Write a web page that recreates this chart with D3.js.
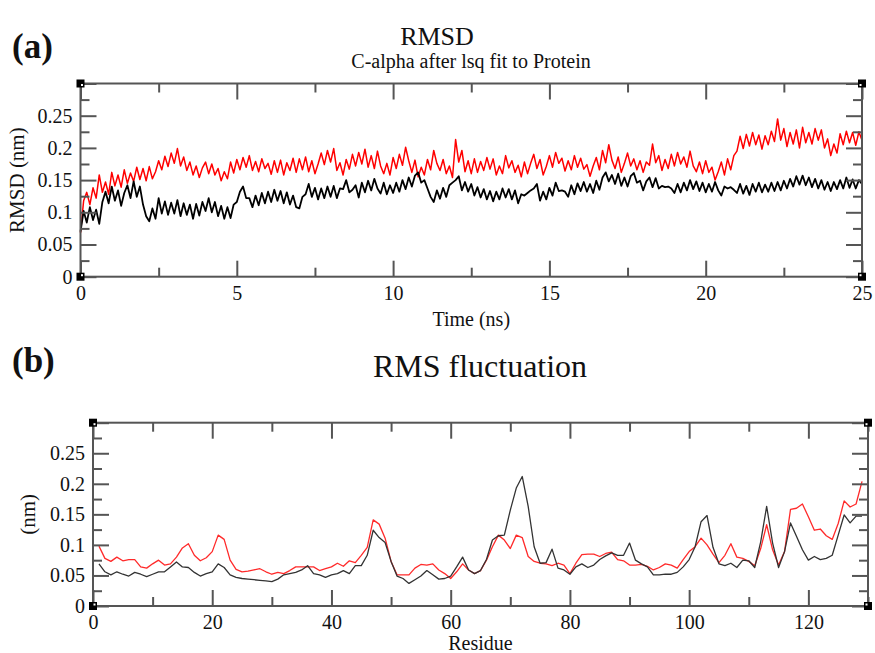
<!DOCTYPE html>
<html>
<head>
<meta charset="utf-8">
<script src="https://cdn.jsdelivr.net/npm/d3@7"></script>
<style>
    body { margin: 0; background: #fff; }
    svg { display: block; font-family: "Liberation Serif", "Times New Roman", serif; }
</style>
</head>
<body>
<div id="chart"></div>
<script>
// RMSD, sampled every 0.1 ns from 0 to 25 ns
const rmsdStep = 0.1;
const rmsdBlack = [
    0.070, 0.102, 0.084, 0.108, 0.088, 0.104, 0.082, 0.116, 0.132, 0.114,
    0.140, 0.118, 0.134, 0.110, 0.130, 0.142, 0.122, 0.148, 0.124, 0.140,
    0.112, 0.094, 0.086, 0.106, 0.090, 0.122, 0.098, 0.117, 0.096, 0.115,
    0.098, 0.119, 0.094, 0.114, 0.096, 0.112, 0.090, 0.113, 0.095, 0.116,
    0.102, 0.122, 0.100, 0.116, 0.094, 0.110, 0.090, 0.108, 0.091, 0.112,
    0.116, 0.132, 0.140, 0.122, 0.122, 0.108, 0.126, 0.111, 0.130, 0.114,
    0.132, 0.116, 0.135, 0.118, 0.133, 0.114, 0.131, 0.112, 0.126, 0.108,
    0.106, 0.124, 0.128, 0.144, 0.124, 0.138, 0.120, 0.137, 0.122, 0.140,
    0.124, 0.141, 0.122, 0.137, 0.136, 0.150, 0.131, 0.135, 0.142, 0.123,
    0.146, 0.131, 0.149, 0.134, 0.152, 0.137, 0.129, 0.146, 0.128, 0.142,
    0.130, 0.146, 0.132, 0.150, 0.136, 0.154, 0.140, 0.157, 0.162, 0.146,
    0.150, 0.137, 0.124, 0.116, 0.134, 0.121, 0.138, 0.124, 0.142, 0.146,
    0.150, 0.156, 0.134, 0.147, 0.132, 0.144, 0.126, 0.139, 0.123, 0.136,
    0.120, 0.133, 0.117, 0.132, 0.120, 0.137, 0.123, 0.136, 0.120, 0.134,
    0.114, 0.128, 0.126, 0.130, 0.134, 0.137, 0.144, 0.118, 0.132, 0.120,
    0.138, 0.126, 0.146, 0.133, 0.134, 0.132, 0.124, 0.142, 0.128, 0.145,
    0.133, 0.147, 0.132, 0.144, 0.130, 0.149, 0.135, 0.154, 0.162, 0.148,
    0.158, 0.144, 0.160, 0.141, 0.154, 0.140, 0.156, 0.161, 0.146, 0.149,
    0.134, 0.148, 0.154, 0.139, 0.153, 0.137, 0.141, 0.139, 0.140, 0.137,
    0.130, 0.144, 0.131, 0.146, 0.134, 0.150, 0.136, 0.148, 0.133, 0.146,
    0.131, 0.144, 0.132, 0.147, 0.134, 0.126, 0.140, 0.137, 0.139, 0.135,
    0.130, 0.144, 0.129, 0.141, 0.127, 0.144, 0.132, 0.146, 0.131, 0.143,
    0.132, 0.146, 0.133, 0.147, 0.134, 0.149, 0.137, 0.152, 0.140, 0.156,
    0.143, 0.157, 0.142, 0.154, 0.139, 0.152, 0.137, 0.150, 0.135, 0.147,
    0.133, 0.147, 0.136, 0.150, 0.137, 0.154, 0.138, 0.151, 0.137, 0.150,
    0.144
];
const rmsdRed = [
    0.068, 0.118, 0.131, 0.112, 0.138, 0.122, 0.158, 0.131, 0.147, 0.128,
    0.162, 0.141, 0.158, 0.139, 0.166, 0.145, 0.161, 0.148, 0.170, 0.151,
    0.168, 0.149, 0.171, 0.152, 0.163, 0.180, 0.166, 0.187, 0.171, 0.192,
    0.176, 0.199, 0.172, 0.186, 0.165, 0.178, 0.158, 0.172, 0.154, 0.169,
    0.178, 0.160, 0.175, 0.158, 0.168, 0.149, 0.163, 0.152, 0.178, 0.161,
    0.182, 0.166, 0.185, 0.170, 0.188, 0.165, 0.179, 0.163, 0.183, 0.168,
    0.176, 0.159, 0.180, 0.162, 0.181, 0.158, 0.177, 0.165, 0.184, 0.162,
    0.183, 0.166, 0.186, 0.163, 0.180, 0.160, 0.175, 0.192, 0.174, 0.196,
    0.178, 0.199, 0.165, 0.177, 0.158, 0.182, 0.167, 0.190, 0.172, 0.193,
    0.175, 0.198, 0.170, 0.188, 0.168, 0.195, 0.172, 0.160, 0.176, 0.158,
    0.185, 0.168, 0.190, 0.173, 0.201, 0.180, 0.162, 0.181, 0.155, 0.170,
    0.158, 0.182, 0.166, 0.196, 0.176, 0.165, 0.182, 0.160, 0.172, 0.154,
    0.213, 0.178, 0.196, 0.163, 0.180, 0.160, 0.183, 0.162, 0.179, 0.165,
    0.185, 0.167, 0.183, 0.158, 0.172, 0.160, 0.188, 0.169, 0.180, 0.162,
    0.173, 0.155, 0.178, 0.160, 0.176, 0.190, 0.168, 0.182, 0.158, 0.171,
    0.188, 0.170, 0.193, 0.176, 0.184, 0.164, 0.180, 0.166, 0.188, 0.170,
    0.184, 0.167, 0.174, 0.156, 0.172, 0.185, 0.166, 0.196, 0.177, 0.205,
    0.181, 0.168, 0.186, 0.162, 0.176, 0.192, 0.172, 0.183, 0.166, 0.180,
    0.162, 0.178, 0.173, 0.206, 0.177, 0.188, 0.165, 0.182, 0.168, 0.190,
    0.172, 0.193, 0.175, 0.186, 0.170, 0.195, 0.172, 0.163, 0.178, 0.160,
    0.180, 0.162, 0.170, 0.150, 0.163, 0.178, 0.158, 0.183, 0.166, 0.188,
    0.195, 0.218, 0.199, 0.221, 0.203, 0.224, 0.205, 0.220, 0.198, 0.219,
    0.205, 0.226, 0.210, 0.245, 0.212, 0.230, 0.202, 0.224, 0.206, 0.228,
    0.200, 0.232, 0.208, 0.224, 0.206, 0.230, 0.212, 0.228, 0.200, 0.214,
    0.188, 0.206, 0.192, 0.222, 0.205, 0.226, 0.208, 0.224, 0.204, 0.225,
    0.212
];

// RMS fluctuation per residue, residues 1..129
const rmsfBlack = [
    0.069, 0.056, 0.051, 0.056, 0.052, 0.049, 0.055, 0.052, 0.048, 0.052,
    0.056, 0.056, 0.064, 0.072, 0.064, 0.063, 0.055, 0.049, 0.053, 0.056,
    0.069, 0.063, 0.051, 0.047, 0.045, 0.044, 0.043, 0.042, 0.041, 0.040,
    0.044, 0.051, 0.053, 0.055, 0.059, 0.066, 0.053, 0.051, 0.047, 0.051,
    0.053, 0.058, 0.053, 0.066, 0.066, 0.083, 0.124, 0.112, 0.104, 0.073,
    0.049, 0.045, 0.037, 0.043, 0.049, 0.058, 0.051, 0.044, 0.045, 0.049,
    0.064, 0.080, 0.059, 0.053, 0.058, 0.076, 0.108, 0.115, 0.116, 0.157,
    0.193, 0.212, 0.163, 0.097, 0.070, 0.071, 0.093, 0.062, 0.059, 0.052,
    0.064, 0.069, 0.063, 0.067, 0.076, 0.082, 0.087, 0.083, 0.083, 0.103,
    0.075, 0.069, 0.064, 0.051, 0.051, 0.052, 0.052, 0.055, 0.064, 0.076,
    0.097, 0.138, 0.148, 0.096, 0.069, 0.066, 0.070, 0.063, 0.075, 0.074,
    0.063, 0.105, 0.163, 0.103, 0.063, 0.089, 0.136, 0.114, 0.092, 0.075,
    0.081, 0.076, 0.078, 0.083, 0.116, 0.149, 0.136, 0.147, 0.147
];
const rmsfRed = [
    0.098, 0.078, 0.073, 0.080, 0.074, 0.076, 0.076, 0.064, 0.062, 0.069,
    0.075, 0.067, 0.069, 0.080, 0.095, 0.102, 0.083, 0.074, 0.079, 0.089,
    0.116, 0.109, 0.075, 0.060, 0.056, 0.057, 0.059, 0.061, 0.056, 0.052,
    0.055, 0.053, 0.058, 0.064, 0.064, 0.064, 0.064, 0.058, 0.061, 0.064,
    0.070, 0.065, 0.074, 0.071, 0.083, 0.096, 0.141, 0.134, 0.111, 0.073,
    0.051, 0.051, 0.051, 0.062, 0.068, 0.067, 0.069, 0.059, 0.053, 0.045,
    0.056, 0.069, 0.059, 0.053, 0.058, 0.075, 0.097, 0.116, 0.108, 0.094,
    0.116, 0.112, 0.081, 0.073, 0.070, 0.069, 0.066, 0.070, 0.067, 0.053,
    0.070, 0.084, 0.085, 0.085, 0.081, 0.086, 0.088, 0.076, 0.074, 0.067,
    0.067, 0.068, 0.065, 0.059, 0.063, 0.069, 0.067, 0.062, 0.076, 0.089,
    0.097, 0.111, 0.100, 0.085, 0.071, 0.083, 0.102, 0.080, 0.078, 0.073,
    0.066, 0.094, 0.133, 0.092, 0.067, 0.089, 0.158, 0.160, 0.167, 0.146,
    0.124, 0.126, 0.115, 0.109, 0.135, 0.172, 0.162, 0.167, 0.204
];

// ticks
const yMajor = [0, 0.05, 0.1, 0.15, 0.2, 0.25, 0.3];
const yLabels = ['0', '0.05', '0.1', '0.15', '0.2', '0.25', ''];
const yMinor = [0.025, 0.075, 0.125, 0.175, 0.225, 0.275];
const timeMajor = [0, 5, 10, 15, 20, 25];
const timeMinor = [2.5, 7.5, 12.5, 17.5, 22.5];
const resMajor = [0, 20, 40, 60, 80, 100, 120];
const resMinor = [10, 30, 50, 70, 90, 110, 130];

const width = 875, height = 653;
const frameColor = '#555';

const svg = d3.select('#chart').append('svg')
    .attr('width', width)
    .attr('height', height);

svg.append('rect').attr('width', width).attr('height', height).attr('fill', '#fff');

function drawPanel(opts) {
    const x = d3.scaleLinear().domain(opts.xDomain).range([opts.left, opts.right]);
    const y = d3.scaleLinear().domain([0, 0.3]).range([opts.bottom, opts.top]);
    const g = svg.append('g');

    // series (red first, black on top)
    const line = d3.line().x(d => x(d[0])).y(d => y(d[1]));
    opts.series.forEach(s => {
        g.append('path')
            .datum(s.values.map((v, i) => [s.x0 + i * s.step, v]))
            .attr('fill', 'none')
            .attr('stroke', s.color)
            .attr('stroke-width', s.width)
            .attr('stroke-linejoin', 'round')
            .attr('d', line);
    });

    // axes with inward ticks
    const fmtY = d => yLabels[yMajor.indexOf(d)];
    const addAxis = (axis, tx, ty) => {
        const a = g.append('g')
            .attr('transform', `translate(${tx},${ty})`)
            .call(axis);
        a.select('.domain').remove();
        a.selectAll('line').attr('stroke', frameColor).attr('stroke-width', 2);
        a.selectAll('text')
            .attr('fill', '#111')
            .style('font-family', '"Liberation Serif", "Times New Roman", serif')
            .style('font-size', '20px');
        return a;
    };
    addAxis(d3.axisBottom(x).tickValues(opts.xMajor).tickSize(-16).tickPadding(9)
        .tickFormat(d3.format('d')), 0, opts.bottom);
    addAxis(d3.axisBottom(x).tickValues(opts.xMinor).tickSize(-9).tickFormat(''), 0, opts.bottom);
    addAxis(d3.axisTop(x).tickValues(opts.xMajor).tickSize(-16).tickFormat(''), 0, opts.top);
    addAxis(d3.axisTop(x).tickValues(opts.xMinor).tickSize(-9).tickFormat(''), 0, opts.top);
    addAxis(d3.axisLeft(y).tickValues(yMajor).tickSize(-16).tickPadding(8).tickFormat(fmtY), opts.left, 0);
    addAxis(d3.axisLeft(y).tickValues(yMinor).tickSize(-9).tickFormat(''), opts.left, 0);
    addAxis(d3.axisRight(y).tickValues(yMajor).tickSize(-16).tickFormat(''), opts.right, 0);
    addAxis(d3.axisRight(y).tickValues(yMinor).tickSize(-9).tickFormat(''), opts.right, 0);

    // frame
    g.append('rect')
        .attr('x', opts.left).attr('y', opts.top)
        .attr('width', opts.right - opts.left)
        .attr('height', opts.bottom - opts.top)
        .attr('fill', 'none')
        .attr('stroke', frameColor)
        .attr('stroke-width', 2);

    // corner handles
    const corners = [[opts.left, opts.top, 1, 1], [opts.right, opts.top, -1, 1],
                     [opts.left, opts.bottom, 1, -1], [opts.right, opts.bottom, -1, -1]];
    corners.forEach(([cx, cy, dx, dy]) => {
        g.append('rect').attr('x', cx - 4).attr('y', cy - 4).attr('width', 8).attr('height', 8).attr('fill', '#000');
        g.append('rect').attr('x', cx + dx * 1.5 - 1).attr('y', cy + dy * 1.5 - 1)
            .attr('width', 2).attr('height', 2).attr('fill', '#fff');
    });

    // axis titles
    g.append('text')
        .attr('x', (opts.left + opts.right) / 2)
        .attr('y', opts.xLabelY)
        .attr('text-anchor', 'middle')
        .style('font-size', '20px')
        .attr('fill', '#111')
        .text(opts.xLabel);

    g.append('text')
        .attr('transform', `translate(${opts.yLabelX},${(opts.top + opts.bottom) / 2}) rotate(-90)`)
        .attr('text-anchor', 'middle')
        .style('font-size', '21px')
        .attr('fill', '#111')
        .text(opts.yLabel);
}

// panel (a)
svg.append('text').attr('x', 12).attr('y', 58)
    .style('font-size', '35px').style('font-weight', 'bold').attr('fill', '#111').text('(a)');
svg.append('text').attr('x', 437).attr('y', 45).attr('text-anchor', 'middle')
    .style('font-size', '26px').attr('fill', '#111').text('RMSD');
svg.append('text').attr('x', 471).attr('y', 68).attr('text-anchor', 'middle')
    .style('font-size', '20px').attr('fill', '#111').text('C-alpha after lsq fit to Protein');

drawPanel({
    left: 80.5, right: 862, top: 83.5, bottom: 276.7,
    xDomain: [0, 25], xMajor: timeMajor, xMinor: timeMinor,
    xLabel: 'Time (ns)', xLabelY: 326,
    yLabel: 'RMSD (nm)', yLabelX: 24,
    series: [
        { values: rmsdRed, x0: 0, step: rmsdStep, color: '#ff0000', width: 1.5 },
        { values: rmsdBlack, x0: 0, step: rmsdStep, color: '#000', width: 1.8 }
    ]
});

// panel (b)
svg.append('text').attr('x', 12).attr('y', 372)
    .style('font-size', '35px').style('font-weight', 'bold').attr('fill', '#111').text('(b)');
svg.append('text').attr('x', 480).attr('y', 377).attr('text-anchor', 'middle')
    .style('font-size', '32px').attr('fill', '#111').text('RMS fluctuation');

drawPanel({
    left: 93, right: 868, top: 422.7, bottom: 606,
    xDomain: [0, 130], xMajor: resMajor, xMinor: resMinor,
    xLabel: 'Residue', xLabelY: 650,
    yLabel: '(nm)', yLabelX: 35,
    series: [
        { values: rmsfRed, x0: 1, step: 1, color: '#ff2a2a', width: 1.3 },
        { values: rmsfBlack, x0: 1, step: 1, color: '#333', width: 1.3 }
    ]
});
</script>
</body>
</html>
